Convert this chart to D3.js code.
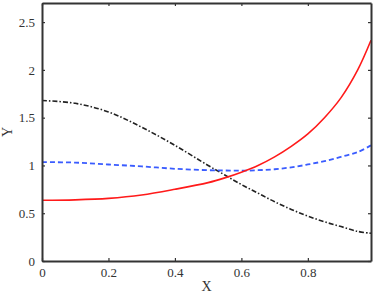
<!DOCTYPE html>
<html>
<head>
<meta charset="utf-8">
<script src="https://cdn.jsdelivr.net/npm/d3@7"></script>
<style>
  body { margin: 0; background: #fff; }
  svg { display: block; }
  svg text { font-family: "Liberation Serif", "DejaVu Serif", serif !important; fill: #333; }
</style>
</head>
<body>
<div id="chart"></div>
<script>
// values
const xs = [0, 0.1, 0.2, 0.3, 0.4, 0.5, 0.55, 0.6, 0.65, 0.7, 0.75, 0.8, 0.85, 0.9, 0.95, 0.99];
const redY = [0.635, 0.64, 0.655, 0.69, 0.75, 0.82, 0.87, 0.93, 1.00, 1.09, 1.20, 1.33, 1.50, 1.71, 2.00, 2.31];
const blueY = [1.035, 1.03, 1.01, 0.99, 0.965, 0.95, 0.947, 0.945, 0.95, 0.96, 0.98, 1.01, 1.045, 1.09, 1.14, 1.21];
const blackY = [1.68, 1.65, 1.56, 1.40, 1.21, 1.00, 0.90, 0.80, 0.71, 0.62, 0.54, 0.47, 0.41, 0.36, 0.31, 0.29];
const xTicks = [0, 0.2, 0.4, 0.6, 0.8];
const yTicks = [0, 0.5, 1, 1.5, 2, 2.5];

const width = 374, height = 295;
const margin = {top: 3, right: 3, bottom: 34, left: 42};

const svg = d3.select('#chart')
  .append('svg')
  .attr('width', width)
  .attr('height', height);

const x = d3.scaleLinear().domain([0, 0.99]).range([margin.left, width - margin.right]);
const y = d3.scaleLinear().domain([0, 2.7]).range([height - margin.bottom, margin.top]);

const line = (ys) => d3.line()
  .x((d, i) => x(xs[i]))
  .y((d) => y(d))
  .curve(d3.curveCatmullRom)(ys);

svg.append('path')
  .attr('d', line(blackY))
  .attr('fill', 'none')
  .attr('stroke', '#222')
  .attr('stroke-width', 1.6)
  .attr('stroke-dasharray', '5,2,1.5,2');

svg.append('path')
  .attr('d', line(blueY))
  .attr('fill', 'none')
  .attr('stroke', '#3a5cff')
  .attr('stroke-width', 1.8)
  .attr('stroke-dasharray', '5,3');

svg.append('path')
  .attr('d', line(redY))
  .attr('fill', 'none')
  .attr('stroke', '#ff1a1a')
  .attr('stroke-width', 1.6);

// axes, ticks pointing inward, mirrored on the box
const axBottom = svg.append('g')
  .attr('transform', `translate(0, ${y(0)})`)
  .call(d3.axisBottom(x).tickValues(xTicks).tickSizeInner(-3).tickSizeOuter(0).tickPadding(7)
    .tickFormat(d => d === 0 ? '0' : d3.format('.1f')(d)));
const axTop = svg.append('g')
  .attr('transform', `translate(0, ${y(2.7)})`)
  .call(d3.axisTop(x).tickValues(xTicks).tickSizeInner(-3).tickSizeOuter(0).tickFormat(''));
const axLeft = svg.append('g')
  .attr('transform', `translate(${x(0)}, 0)`)
  .call(d3.axisLeft(y).tickValues(yTicks).tickSizeInner(-3).tickSizeOuter(0).tickPadding(7)
    .tickFormat(d => d3.format('~g')(d)));
const axRight = svg.append('g')
  .attr('transform', `translate(${x(0.99)}, 0)`)
  .call(d3.axisRight(y).tickValues(yTicks).tickSizeInner(-3).tickSizeOuter(0).tickFormat(''));

[axBottom, axTop, axLeft, axRight].forEach(g => {
  g.attr('font-family', null);
  g.select('.domain').attr('stroke', '#333').attr('stroke-width', 2);
  g.selectAll('.tick line').attr('stroke', '#333').attr('stroke-width', 1.2);
  g.selectAll('.tick text').attr('font-size', 13).attr('fill', '#333');
});

svg.append('text')
  .attr('x', (x(0) + x(0.99)) / 2)
  .attr('y', 291)
  .attr('text-anchor', 'middle')
  .attr('font-size', 14)
  .text('X');

svg.append('text')
  .attr('transform', `translate(12, ${(y(0) + y(2.7)) / 2}) rotate(-90)`)
  .attr('text-anchor', 'middle')
  .attr('font-size', 14)
  .text('Y');
</script>
</body>
</html>
